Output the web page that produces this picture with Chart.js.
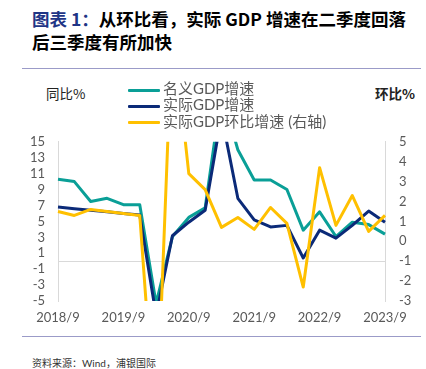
<!DOCTYPE html>
<html lang="zh">
<head>
    <meta charset="UTF-8">
    <title>实际GDP增速</title>
    <script src="https://cdn.jsdelivr.net/npm/chart.js"></script>
    <style>
        body {
            margin: 0;
            width: 426px;
            height: 369px;
            background: #fff;
            position: relative;
            overflow: hidden;
            font-family: Lato, "Noto Sans CJK SC", sans-serif;
        }
        .title {
            position: absolute;
            left: 32px;
            top: 7px;
            font-size: 17.5px;
            font-weight: bold;
            line-height: 23px;
            color: #000;
            font-family: "Noto Sans CJK SC", sans-serif;
        }
        .title .tag { color: #1f3586; }
        .rule {
            position: absolute;
            left: 22px;
            width: 399px;
            height: 1px;
            background: #9b9bc8;
        }
        .axis-title {
            position: absolute;
            top: 83px;
            font-size: 13.5px;
            color: #222;
            font-family: "Noto Sans CJK SC", sans-serif;
        }
        #legend {
            position: absolute;
            left: 128px;
            top: 80px;
            font-size: 15px;
            color: #595959;
        }
        #legend .row {
            height: 16.4px;
            line-height: 16.4px;
            white-space: nowrap;
        }
        #legend .swatch {
            display: inline-block;
            width: 32px;
            height: 3px;
            vertical-align: middle;
            margin-right: 3px;
            border-radius: 1px;
        }
        .chart-box {
            position: absolute;
            left: 0;
            top: 120px;
            width: 426px;
            height: 215px;
        }
        .source {
            position: absolute;
            left: 32px;
            top: 355px;
            font-size: 10px;
            color: #333;
        }
    </style>
</head>
<body>
    <div class="title"><span class="tag">图表 1：</span>从环比看，实际 GDP 增速在二季度回落<br>后三季度有所加快</div>
    <div class="rule" style="top: 68px;"></div>

    <div class="axis-title" style="left: 46px;">同比%</div>
    <div class="axis-title" style="left: 375px; font-weight: bold;">环比%</div>

    <div class="chart-box">
        <canvas id="gdpChart"></canvas>
    </div>
    <div id="legend"></div>

    <div class="rule" style="top: 336px;"></div>
    <div class="source">资料来源：Wind，浦银国际</div>

    <script>
        // 季度标签
        const quarters = ['2018/9', '2018/12', '2019/3', '2019/6', '2019/9', '2019/12',
            '2020/3', '2020/6', '2020/9', '2020/12', '2021/3', '2021/6', '2021/9', '2021/12',
            '2022/3', '2022/6', '2022/9', '2022/12', '2023/3', '2023/6', '2023/9'];

        // 名义GDP同比 (%)
        const nominalYoY = [10.3, 10.0, 7.5, 7.9, 7.1, 7.1, -5.3, 3.1, 5.5, 6.7, 21.2, 14.0,
            10.2, 10.2, 9.0, 3.9, 6.2, 3.1, 4.9, 4.6, 3.4];

        // 实际GDP同比 (%)
        const realYoY = [6.8, 6.6, 6.4, 6.2, 6.0, 5.8, -6.8, 3.2, 4.9, 6.4, 18.3, 7.9,
            5.2, 4.3, 4.5, 0.4, 3.9, 2.9, 4.5, 6.3, 4.9];

        // 实际GDP环比 (%，右轴)
        const realQoQ = [1.5, 1.3, 1.6, 1.5, 1.4, 1.3, -10.0, 11.0, 3.4, 2.6, 0.7, 1.2,
            0.6, 1.7, 0.9, -2.3, 3.7, 0.8, 2.3, 0.5, 1.3];

        const seriesNames = ['名义GDP增速', '实际GDP增速', '实际GDP环比增速 (右轴)'];
        const seriesColors = ['#0a9f97', '#0b2a78', '#ffc000'];

        const tickFont = { family: 'Lato', size: 13 };
        const tickColor = '#595959';
        const axisLine = '#d9d9d9';

        function makeLine(i, data, axis, order) {
            return {
                label: seriesNames[i],
                data: data,
                yAxisID: axis,
                borderColor: seriesColors[i],
                backgroundColor: seriesColors[i],
                borderWidth: 3,
                pointRadius: 0,
                tension: 0,
                borderJoinStyle: 'round',
                order: order
            };
        }

        new Chart(document.getElementById('gdpChart'), {
            type: 'line',
            data: {
                labels: quarters,
                datasets: [
                    makeLine(0, nominalYoY, 'yLeft', 2),
                    makeLine(1, realYoY, 'yLeft', 1),
                    makeLine(2, realQoQ, 'yRight', 0)
                ]
            },
            options: {
                responsive: true,
                maintainAspectRatio: false,
                animation: false,
                layout: { padding: { top: 10, left: 0, right: 0, bottom: 0 } },
                plugins: {
                    legend: { display: false },
                    tooltip: { enabled: false }
                },
                scales: {
                    x: {
                        grid: { display: false, drawTicks: false },
                        border: { display: false },
                        ticks: {
                            autoSkip: false,
                            maxRotation: 0,
                            padding: 9,
                            color: tickColor,
                            font: tickFont,
                            callback: function (value, index) {
                                return index % 4 === 0 ? quarters[index] : '';
                            }
                        },
                        afterFit: scale => { scale.height = 34; }
                    },
                    yLeft: {
                        position: 'left',
                        min: -5,
                        max: 15,
                        ticks: { stepSize: 2, autoSkip: false, padding: 13, color: tickColor, font: tickFont },
                        grid: { display: false, drawTicks: false },
                        border: { display: true, color: axisLine, width: 1 },
                        afterFit: scale => { scale.width = 58; }
                    },
                    yRight: {
                        position: 'right',
                        min: -3,
                        max: 5,
                        ticks: { stepSize: 1, autoSkip: false, padding: 14, color: tickColor, font: tickFont },
                        grid: {
                            drawTicks: false,
                            color: ctx => ctx.tick && ctx.tick.value === -1 ? axisLine : 'rgba(0,0,0,0)'
                        },
                        border: { display: true, color: axisLine, width: 1 },
                        afterFit: scale => { scale.width = 41; }
                    }
                }
            }
        });

        // 图例
        const legend = document.getElementById('legend');
        seriesNames.forEach((name, i) => {
            const row = document.createElement('div');
            row.className = 'row';
            const sw = document.createElement('span');
            sw.className = 'swatch';
            sw.style.background = seriesColors[i];
            row.appendChild(sw);
            row.appendChild(document.createTextNode(name));
            legend.appendChild(row);
        });
    </script>
</body>
</html>
